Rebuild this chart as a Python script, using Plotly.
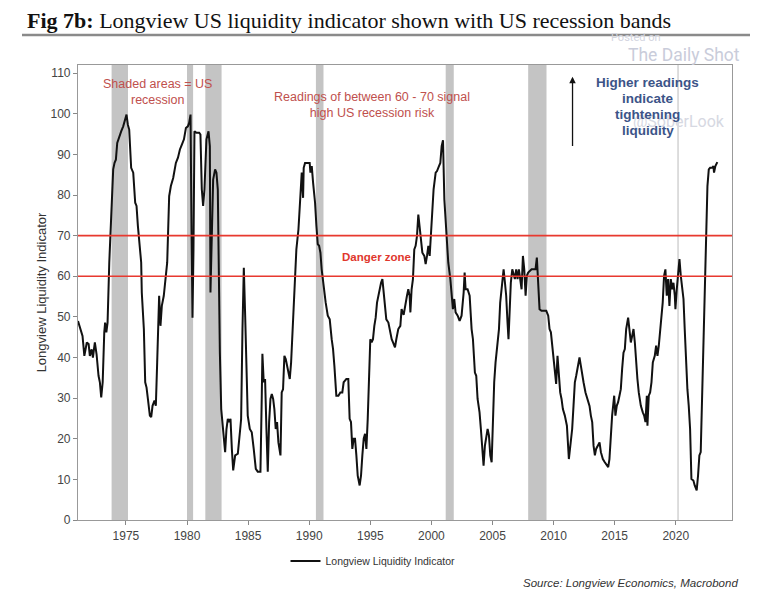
import plotly.graph_objects as go

# ---- data ----
years = [1971.08, 1971.45, 1971.6, 1971.8, 1971.95, 1972.05, 1972.2, 1972.3, 1972.46, 1972.6,
         1972.76, 1972.87, 1972.98, 1973.1, 1973.23, 1973.3, 1973.4, 1973.5, 1973.64, 1973.75,
         1973.86, 1973.96, 1974.07, 1974.18, 1974.29, 1974.45, 1974.62, 1974.78, 1974.89, 1975.05,
         1975.16, 1975.27, 1975.43, 1975.6, 1975.76, 1975.87, 1975.98, 1976.14, 1976.25, 1976.3,
         1976.47, 1976.58, 1976.69, 1976.8, 1976.96, 1977.07, 1977.18, 1977.34, 1977.45, 1977.56,
         1977.72, 1977.83, 1977.94, 1978.1, 1978.27, 1978.38, 1978.54, 1978.68, 1978.87, 1979.09,
         1979.26, 1979.42, 1979.58, 1979.75, 1979.91, 1980.07, 1980.18, 1980.29, 1980.37, 1980.45,
         1980.53, 1980.61, 1980.78, 1981.0, 1981.1, 1981.21, 1981.32, 1981.43, 1981.59, 1981.76,
         1981.87, 1981.92, 1982.03, 1982.14, 1982.3, 1982.41, 1982.52, 1982.63, 1982.69, 1982.8,
         1982.9, 1983.01, 1983.12, 1983.23, 1983.34, 1983.45, 1983.56, 1983.67, 1983.78, 1983.94,
         1984.16, 1984.38, 1984.43, 1984.54, 1984.65, 1984.76, 1984.87, 1984.97, 1985.14, 1985.3,
         1985.46, 1985.63, 1985.79, 1986.01, 1986.12, 1986.17, 1986.28, 1986.39, 1986.5, 1986.61,
         1986.72, 1986.83, 1986.94, 1987.05, 1987.15, 1987.26, 1987.37, 1987.48, 1987.65, 1987.75,
         1987.86, 1987.97, 1988.08, 1988.24, 1988.41, 1988.52, 1988.63, 1988.79, 1988.95, 1989.12,
         1989.28, 1989.39, 1989.5, 1989.55, 1989.66, 1989.88, 1990.04, 1990.1, 1990.21, 1990.32,
         1990.48, 1990.59, 1990.7, 1990.81, 1990.92, 1991.02, 1991.19, 1991.35, 1991.52, 1991.68,
         1991.84, 1991.95, 1992.06, 1992.22, 1992.39, 1992.55, 1992.71, 1992.82, 1992.93, 1993.04,
         1993.2, 1993.31, 1993.42, 1993.53, 1993.64, 1993.75, 1993.86, 1993.97, 1994.13, 1994.24,
         1994.35, 1994.46, 1994.57, 1994.68, 1994.79, 1994.89, 1995.0, 1995.11, 1995.22, 1995.33,
         1995.44, 1995.55, 1995.71, 1995.88, 1995.99, 1996.1, 1996.2, 1996.31, 1996.48, 1996.58,
         1996.75, 1996.86, 1997.02, 1997.13, 1997.29, 1997.46, 1997.56, 1997.73, 1997.89, 1998.0,
         1998.11, 1998.22, 1998.28, 1998.38, 1998.49, 1998.6, 1998.71, 1998.82, 1998.93, 1999.04,
         1999.15, 1999.26, 1999.42, 1999.53, 1999.64, 1999.75, 1999.86, 1999.97, 2000.07, 2000.18,
         2000.35, 2000.46, 2000.62, 2000.73, 2000.84, 2000.95, 2001.06, 2001.16, 2001.27, 2001.38,
         2001.55, 2001.65, 2001.76, 2001.87, 2001.98, 2002.15, 2002.31, 2002.47, 2002.64, 2002.72,
         2002.8, 2002.96, 2003.13, 2003.29, 2003.4, 2003.56, 2003.67, 2003.78, 2003.94, 2004.05,
         2004.16, 2004.27, 2004.38, 2004.49, 2004.6, 2004.71, 2004.82, 2004.93, 2005.03, 2005.14,
         2005.25, 2005.36, 2005.53, 2005.63, 2005.8, 2005.91, 2006.02, 2006.12, 2006.23, 2006.31,
         2006.4, 2006.5, 2006.62, 2006.72, 2006.83, 2006.94, 2007.05, 2007.16, 2007.27, 2007.38,
         2007.49, 2007.6, 2007.71, 2007.81, 2007.92, 2008.03, 2008.2, 2008.36, 2008.52, 2008.63,
         2008.74, 2008.85, 2009.01, 2009.18, 2009.4, 2009.56, 2009.67, 2009.78, 2009.89, 2010.0,
         2010.1, 2010.21, 2010.32, 2010.43, 2010.54, 2010.65, 2010.76, 2010.92, 2011.09, 2011.25,
         2011.36, 2011.52, 2011.63, 2011.74, 2011.85, 2011.96, 2012.12, 2012.23, 2012.34, 2012.45,
         2012.61, 2012.78, 2012.94, 2013.05, 2013.16, 2013.27, 2013.38, 2013.48, 2013.65, 2013.76,
         2013.87, 2014.03, 2014.19, 2014.36, 2014.47, 2014.57, 2014.68, 2014.79, 2014.96, 2015.06,
         2015.17, 2015.28, 2015.39, 2015.5, 2015.61, 2015.72, 2015.83, 2015.94, 2016.1, 2016.21,
         2016.32, 2016.43, 2016.54, 2016.65, 2016.75, 2016.86, 2016.97, 2017.14, 2017.3, 2017.41,
         2017.52, 2017.63, 2017.68, 2017.79, 2017.9, 2018.01, 2018.12, 2018.28, 2018.39, 2018.5,
         2018.61, 2018.72, 2018.83, 2018.93, 2019.04, 2019.15, 2019.26, 2019.37, 2019.48, 2019.59,
         2019.7, 2019.81, 2019.92, 2019.97, 2020.08, 2020.19, 2020.3, 2020.41, 2020.52, 2020.63,
         2020.73, 2020.84, 2020.95, 2021.06, 2021.17, 2021.28, 2021.44, 2021.55, 2021.71, 2021.82,
         2021.93, 2022.04, 2022.15, 2022.26, 2022.37, 2022.48, 2022.59, 2022.7, 2022.81, 2022.97,
         2023.08, 2023.13, 2023.24, 2023.4]

liquidity = [49.0, 45.3, 40.4, 43.7, 43.3, 40.4, 42.0, 40.0, 43.7, 40.8,
             35.5, 33.9, 30.2, 33.9, 46.2, 48.6, 46.2, 48.6, 63.4, 71.5,
             75.2, 86.3, 87.9, 88.7, 92.8, 94.5, 95.7, 96.9, 98.2, 99.8,
             97.3, 96.1, 86.7, 85.5, 78.1, 77.3, 72.4, 66.6, 63.4, 56.0,
             47.0, 33.9, 32.6, 29.8, 25.7, 25.3, 28.1, 29.4, 28.1, 38.8,
             55.2, 47.8, 52.7, 55.2, 60.9, 63.4, 79.7, 82.2, 84.2, 87.9,
             89.2, 91.2, 92.4, 93.7, 96.5, 96.9, 97.8, 99.8, 71.5, 49.8,
             66.6, 95.7, 95.3, 95.3, 94.9, 81.4, 77.3, 81.4, 93.7, 95.7,
             92.0, 56.0, 69.9, 83.8, 86.3, 85.5, 81.4, 48.6, 41.2, 27.3,
             24.1, 19.1, 16.7, 22.4, 24.9, 24.1, 24.9, 17.5, 12.2, 15.9,
             16.3, 23.2, 24.9, 47.0, 62.1, 50.3, 33.9, 25.7, 22.4, 21.6,
             17.5, 12.6, 11.9, 11.9, 30.6, 40.9, 33.9, 34.7, 22.4, 11.9,
             24.1, 29.8, 31.0, 29.8, 27.3, 22.4, 24.1, 19.1, 15.9, 31.4,
             32.2, 40.4, 39.6, 37.2, 34.7, 38.8, 47.0, 56.8, 66.6, 71.5,
             79.7, 85.5, 79.3, 86.7, 87.9, 87.9, 87.9, 85.5, 87.1, 83.0,
             78.1, 72.4, 67.9, 67.5, 65.8, 61.7, 56.8, 53.5, 50.3, 49.4,
             44.5, 42.1, 38.0, 30.6, 30.6, 31.4, 31.4, 33.9, 34.3, 34.7,
             34.7, 24.9, 24.1, 17.5, 20.0, 20.0, 15.9, 10.9, 8.5, 10.9,
             15.9, 20.0, 21.2, 17.5, 24.9, 36.3, 44.5, 43.7, 44.5, 47.8,
             49.8, 53.5, 56.0, 58.4, 59.3, 56.0, 51.9, 49.4, 48.6, 47.0,
             44.5, 43.7, 42.5, 44.5, 47.0, 47.8, 51.9, 50.5, 54.0, 55.2,
             56.8, 55.2, 51.1, 56.8, 59.3, 66.6, 67.5, 69.9, 75.2, 71.5,
             67.5, 65.8, 65.0, 63.0, 65.0, 67.5, 65.0, 69.9, 76.5, 81.4,
             85.5, 85.9, 87.1, 87.9, 92.0, 93.5, 78.9, 73.2, 66.6, 63.4,
             59.3, 54.4, 51.9, 54.4, 51.1, 50.3, 49.0, 50.3, 56.0, 60.9,
             56.8, 56.8, 55.2, 47.0, 44.5, 36.3, 35.5, 29.8, 26.5, 22.4,
             17.5, 13.4, 18.3, 20.0, 22.4, 20.8, 15.9, 14.2, 24.1, 33.9,
             38.8, 42.9, 47.0, 53.5, 59.3, 61.7, 58.4, 55.2, 48.6, 44.5,
             51.1, 58.4, 61.7, 60.1, 59.3, 61.7, 59.3, 61.7, 58.4, 56.8,
             65.0, 61.7, 55.2, 60.1, 60.9, 61.3, 61.7, 61.7, 61.7, 64.6,
             59.3, 51.9, 51.5, 51.5, 51.5, 50.3, 47.0, 46.2, 42.9, 40.4,
             36.3, 33.5, 40.4, 35.5, 31.4, 29.8, 27.3, 25.7, 23.2, 15.0,
             17.5, 22.4, 28.1, 33.9, 35.5, 37.2, 40.0, 38.0, 35.5, 33.9,
             31.4, 29.8, 28.1, 25.7, 24.1, 18.3, 15.9, 17.5, 18.3, 19.1,
             16.7, 15.0, 14.2, 13.4, 13.0, 15.0, 20.8, 25.7, 30.6, 25.7,
             28.1, 29.0, 30.6, 32.2, 37.2, 41.2, 42.1, 47.0, 49.8, 47.0,
             43.7, 45.3, 47.0, 43.7, 38.8, 34.7, 31.4, 28.1, 26.5, 25.7,
             24.1, 30.6, 23.2, 30.6, 31.4, 33.9, 38.8, 40.4, 42.9, 40.4,
             42.9, 47.0, 50.3, 53.5, 60.1, 61.7, 55.2, 59.3, 52.7, 59.3,
             56.8, 58.4, 55.2, 51.9, 56.8, 60.1, 64.2, 60.1, 56.8, 54.4,
             47.0, 38.8, 32.2, 28.1, 22.4, 10.1, 9.7, 8.5, 7.3, 10.9,
             15.9, 16.7, 30.6, 47.0, 59.3, 71.5, 82.2, 86.3, 86.7, 86.7,
             87.1, 85.5, 87.1, 88.1]

recession_start = [1973.83, 1980.0, 1981.5, 1990.55, 2001.17, 2007.92]
recession_end = [1975.17, 1980.5, 1982.83, 1991.17, 2001.83, 2009.42]
covid_recession = [2020.12, 2020.25]

danger_levels = [60, 70]
x_ticks = [1975, 1980, 1985, 1990, 1995, 2000, 2005, 2010, 2015, 2020]
y_ticks = [0, 10, 20, 30, 40, 50, 60, 70, 80, 90, 100, 110]
note_lines = ["Higher readings", "indicate", "tightening", "liquidity"]
note_line_values = [107.6, 103.7, 99.7, 95.8]

# ---- layout geometry (page body adds an 8px offset) ----
W, H = 742, 587
ML, MR, MT, MB = 70, 18, 57, 75
PW = W - ML - MR
PH = H - MT - MB


def px_x(sx):
    """screen x -> paper fraction"""
    return (sx - 8 - ML) / PW


def px_y(sy):
    """screen y -> paper fraction"""
    return (H - MB - (sy - 8)) / PH


# ---- figure ----
fig = go.Figure()

fig.add_trace(go.Scatter(
    x=years, y=liquidity, mode="lines",
    name="Longview Liquidity Indicator",
    line=dict(color="#111111", width=2),
))

shapes = []
for s, e in zip(recession_start, recession_end):
    shapes.append(dict(type="rect", xref="x", yref="paper", x0=s, x1=e, y0=0, y1=1,
                       fillcolor="#c4c4c4", line=dict(width=0), layer="below"))
shapes.append(dict(type="rect", xref="x", yref="paper", x0=covid_recession[0], x1=covid_recession[1],
                   y0=0, y1=1, fillcolor="#d4d4d4", line=dict(width=0), layer="below"))
for lv in danger_levels:
    shapes.append(dict(type="line", xref="paper", yref="y", x0=0, x1=1, y0=lv, y1=lv,
                       line=dict(color="#e8392f", width=1.6)))
# title underline
shapes.append(dict(type="line", xref="paper", yref="paper", x0=px_x(22), x1=px_x(750),
                   y0=px_y(35), y1=px_y(35), line=dict(color="#8a8a8a", width=2.5)))

fig.update_layout(shapes=shapes)

ann_red = "#c0504d"
annotations = [
    # watermark (drawn first, underneath)
    dict(x=px_x(636), y=px_y(38), xref="paper", yref="paper", xanchor="center", yanchor="middle",
         text="Posted on", showarrow=False,
         font=dict(family="Roboto, Arial", size=11, color="#d3d5df")),
    dict(x=px_x(684), y=px_y(55), xref="paper", yref="paper", xanchor="center", yanchor="middle",
         text="The Daily Shot", showarrow=False,
         font=dict(family="Roboto, Arial", size=17.5, color="#c9ccda")),
    dict(x=px_x(679), y=px_y(121), xref="paper", yref="paper", xanchor="center", yanchor="middle",
         text="@SoberLook", showarrow=False,
         font=dict(family="Roboto, Arial", size=16, color="#d6d8e2")),
    dict(x=1977.6, y=105.4, xref="x", yref="y", text="Shaded areas = US<br>recession",
         showarrow=False, font=dict(family="Arial, Liberation Sans", size=12.5, color=ann_red),
         align="center"),
    dict(x=1995.1, y=102.2, xref="x", yref="y",
         text="Readings of between 60 - 70 signal<br>high US recession risk",
         showarrow=False, font=dict(family="Arial, Liberation Sans", size=12.5, color=ann_red),
         align="center"),
    dict(x=1995.5, y=64.7, xref="x", yref="y", text="<b>Danger zone</b>",
         showarrow=False, font=dict(family="Arial, Liberation Sans", size=11.5, color="#e0372d")),
    # arrow
    dict(x=2011.55, y=109.1, ax=2011.55, ay=91.7, xref="x", yref="y", axref="x", ayref="y",
         text="", showarrow=True, arrowhead=2, arrowsize=1, arrowwidth=1.3, arrowcolor="#111111"),
    # title
    dict(x=px_x(25), y=px_y(20.5), xref="paper", yref="paper", xanchor="left",
         yanchor="middle",
         text="<b>Fig 7b:</b> Longview US liquidity indicator shown with US recession bands",
         showarrow=False, font=dict(family="Liberation Serif, DejaVu Serif, serif", size=22,
                                    color="#111111")),
    # source
    dict(x=px_x(740), y=px_y(583), xref="paper", yref="paper", xanchor="right",
         yanchor="middle", text="<i>Source: Longview Economics, Macrobond</i>",
         showarrow=False, font=dict(family="Arial, Liberation Sans", size=11.5, color="#333333")),
]
for txt, val in zip(note_lines, note_line_values):
    annotations.append(dict(x=2017.7, y=val, xref="x", yref="y", text="<b>" + txt + "</b>",
                            showarrow=False, xanchor="center", yanchor="middle",
                            font=dict(family="Arial, Liberation Sans", size=13.5, color="#3c5488")))
fig.update_layout(annotations=annotations)

fig.update_layout(
    width=W, height=H,
    margin=dict(l=ML, r=MR, t=MT, b=MB),
    paper_bgcolor="white", plot_bgcolor="white",
    font=dict(family="Arial, Liberation Sans", size=12, color="#444444"),
    showlegend=True,
    legend=dict(orientation="h", x=px_x(373), xanchor="center", y=px_y(561),
                yanchor="middle", font=dict(size=10.5, color="#333333"),
                bgcolor="rgba(0,0,0,0)", itemwidth=30),
    xaxis=dict(range=[1971.08, 2024.6], tickvals=x_ticks, ticks="outside", ticklen=4,
               tickcolor="#888888", showgrid=False, zeroline=False,
               showline=True, linecolor="#999999", linewidth=1.2, mirror=True,
               tickfont=dict(size=12, color="#444444")),
    yaxis=dict(range=[0, 112], tickvals=y_ticks, ticks="outside", ticklen=4,
               tickcolor="#888888", showgrid=False, zeroline=False,
               showline=True, linecolor="#999999", linewidth=1.2, mirror=True,
               title=dict(text="Longview Liquidity Indicator", font=dict(size=13, color="#333333"),
                          standoff=0),
               tickfont=dict(size=12, color="#444444")),
)

fig.write_html("out.html")
